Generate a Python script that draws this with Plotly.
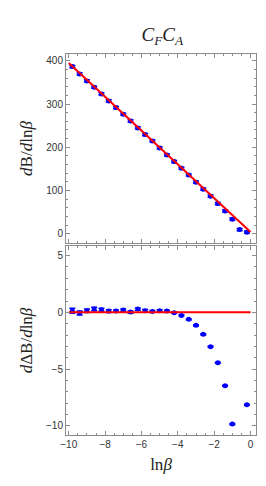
import plotly.graph_objects as go

ln_beta = [-9.8, -9.4, -9.0, -8.6, -8.2, -7.8, -7.4, -7.0, -6.6, -6.2, -5.8, -5.4, -5.0,
           -4.6, -4.2, -3.8, -3.4, -3.0, -2.6, -2.2, -1.8, -1.4, -1.0, -0.6, -0.2]
dB = [386.4, 369.5, 353.3, 338.7, 323.3, 307.2, 291.7, 276.4, 261.0, 244.8, 229.3, 214.8, 198.6,
      182.4, 167.0, 151.6, 136.0, 119.4, 103.2, 87.1, 70.0, 53.1, 34.0, 9.9, 3.9]
dB_err = [2.5] * 25
dDB = [0.14, -0.06, 0.14, 0.29, 0.23, 0.11, 0.11, 0.20, 0.02, 0.29, 0.14, 0.08, 0.14,
       0.11, -0.03, -0.27, -0.62, -1.15, -1.94, -3.03, -4.45, -6.48, -9.86, None, -8.15]
dDB_err = [0.22, 0.18, 0.15, 0.15, 0.13, 0.12, 0.1, 0.1, 0.1, 0.1, 0.1, 0.08, 0.08,
           0.08, 0.06, 0.06, 0.05, 0.05, 0.05, 0.05, 0.05, 0.05, 0.05, 0.05, 0.05]

line_x = [-10, 0]
line_top = [394.5, 4.5]
line_bottom = [0, 0]

BLUE = "#0000ff"
RED = "#ff0000"
FRAME = "#8c8c8c"
TICKFONT = dict(family="Liberation Sans, Arial", size=10, color="#333333")
SERIF = "Liberation Serif, Times New Roman, serif"

fig = go.Figure()

# top panel
fig.add_trace(go.Scatter(x=ln_beta, y=dB, mode="markers", xaxis="x2", yaxis="y",
                         marker=dict(color=BLUE, size=5, symbol="circle"),
                         error_y=dict(type="data", array=dB_err, color=BLUE, thickness=1.5, width=3),
                         showlegend=False))
fig.add_trace(go.Scatter(x=line_x, y=line_top, mode="lines", xaxis="x2", yaxis="y",
                         line=dict(color=RED, width=2), showlegend=False))
# bottom panel
fig.add_trace(go.Scatter(x=ln_beta, y=dDB, mode="markers", xaxis="x", yaxis="y2",
                         marker=dict(color=BLUE, size=5, symbol="circle"),
                         error_y=dict(type="data", array=dDB_err, color=BLUE, thickness=1.5, width=3),
                         showlegend=False))
fig.add_trace(go.Scatter(x=line_x, y=line_bottom, mode="lines", xaxis="x", yaxis="y2",
                         line=dict(color=RED, width=2), showlegend=False))

common_axis = dict(showline=True, linecolor=FRAME, linewidth=1, mirror="allticks",
                   ticks="inside", ticklen=4, tickcolor=FRAME, tickwidth=1, automargin=False,
                   showgrid=False, zeroline=False, tickfont=TICKFONT)

title_font = dict(family=SERIF, size=17, color="#222")

fig.update_layout(
    width=266, height=486,
    margin=dict(l=66, r=10, t=54, b=51),
    plot_bgcolor="white", paper_bgcolor="white",
    xaxis=dict(domain=[0, 1], anchor="y2", range=[-10.15, 0.3], tickmode="linear", tick0=-10, dtick=2,
               minor=dict(dtick=0.5, ticks="inside", ticklen=2, tickcolor=FRAME),
               title=dict(text="ln<i>β</i>", font=title_font, standoff=9),
               **common_axis),
    xaxis2=dict(domain=[0, 1], anchor="y", matches="x", range=[-10.15, 0.3], tickmode="linear", tick0=-10,
                dtick=2, showticklabels=False,
                minor=dict(dtick=0.5, ticks="inside", ticklen=2, tickcolor=FRAME),
                **common_axis),
    yaxis=dict(domain=[0.504, 1], anchor="x2", range=[-21, 415.5], tickmode="linear", tick0=0, dtick=100,
               minor=dict(dtick=20, ticks="inside", ticklen=2, tickcolor=FRAME),
               title=dict(text="<i>d</i>B/<i>d</i>ln<i>β</i>", font=title_font, standoff=9),
               **common_axis),
    yaxis2=dict(domain=[0, 0.496], anchor="x", range=[-10.82, 5.85], tickmode="linear", tick0=0, dtick=5,
                minor=dict(dtick=1, ticks="inside", ticklen=2, tickcolor=FRAME),
                title=dict(text="<i>d</i>ΔB/<i>d</i>ln<i>β</i>", font=title_font, standoff=9),
                **common_axis),
    title=dict(text="<i>C</i><sub><i>F</i></sub><i>C</i><sub><i>A</i></sub>",
               font=dict(family=SERIF, size=19, color="#222"),
               x=0.61, xanchor="center", y=0.93, yanchor="middle"),
)

fig.write_html("out.html", config={"displayModeBar": False},
               post_script="document.body.style.margin='0';")
